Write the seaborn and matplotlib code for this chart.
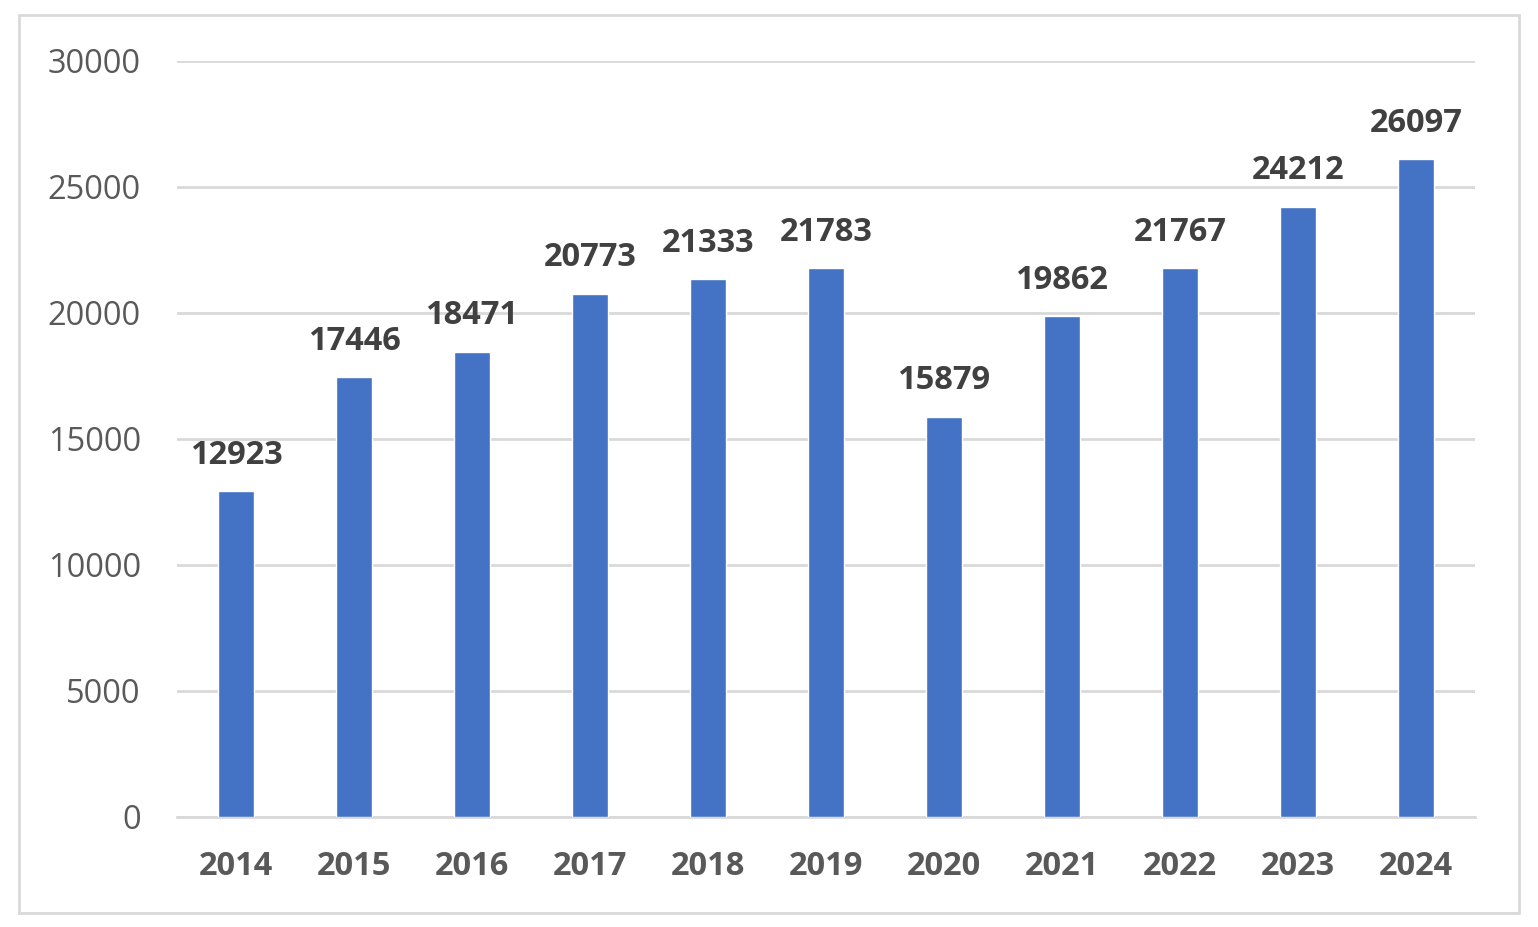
import matplotlib
matplotlib.use("Agg")
import matplotlib.pyplot as plt
import seaborn as sns
import pandas as pd

# Data
years = ["2014", "2015", "2016", "2017", "2018", "2019", "2020", "2021", "2022", "2023", "2024"]
values = [12923, 17446, 18471, 20773, 21333, 21783, 15879, 19862, 21767, 24212, 26097]
y_ticks = [0, 5000, 10000, 15000, 20000, 25000, 30000]

BAR_COLOR = "#4472C4"
GRID_COLOR = "#d9d9d9"

df = pd.DataFrame({"Year": years, "Value": values})

sns.set_style("white")
plt.rcParams["font.family"] = ["Open Sans", "DejaVu Sans"]

fig = plt.figure(figsize=(15.38, 9.27), dpi=100)
ax = fig.add_axes([0.1151, 0.1187, 0.8439, 0.8155])

sns.barplot(data=df, x="Year", y="Value", color=BAR_COLOR, width=0.31,
            saturation=1, ax=ax, zorder=3)

ax.set_xlim(-0.5, len(years) - 0.5)
ax.set_ylim(0, 30000)
ax.set_yticks(y_ticks)
ax.set_yticklabels([str(t) for t in y_ticks])
ax.grid(axis="y", color=GRID_COLOR, linewidth=2, zorder=0)
ax.grid(axis="x", visible=False)
ax.set_xlabel("")
ax.set_ylabel("")
for side in ["top", "right", "left"]:
    ax.spines[side].set_visible(False)
ax.spines["bottom"].set_color(GRID_COLOR)
ax.spines["bottom"].set_linewidth(2)

ax.tick_params(axis="y", length=0, pad=26, labelsize=23.5, labelcolor="#595959")
ax.tick_params(axis="x", length=0, pad=24, labelsize=23.5, labelcolor="#595959")
for lbl in ax.get_xticklabels():
    lbl.set_fontweight("bold")

# Value labels above each bar
for container in ax.containers:
    ax.bar_label(container, fmt="%d", padding=14, fontsize=23.5,
                 fontweight="bold", color="#404040")

# Light grey frame around the whole chart
frame = plt.Rectangle((19 / 1538, 1 - 913 / 927), 1500 / 1538, 898 / 927,
                      transform=fig.transFigure, fill=False,
                      edgecolor=GRID_COLOR, linewidth=2)
fig.patches.append(frame)

fig.savefig("out.png", dpi=100)
plt.close(fig)
